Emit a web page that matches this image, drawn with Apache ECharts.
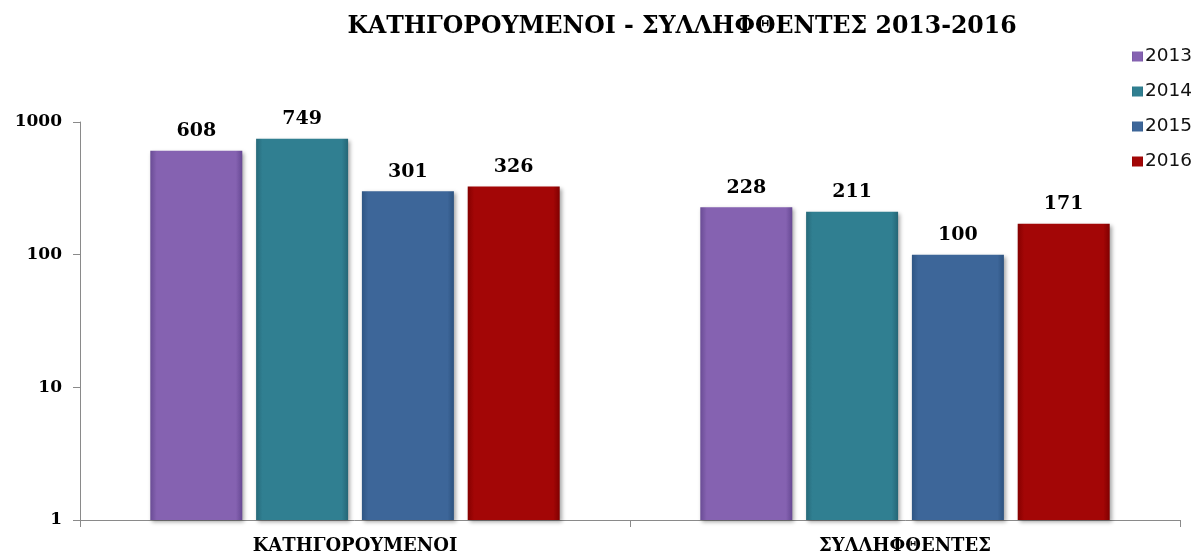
<!DOCTYPE html>
<html><head><meta charset="utf-8">
<script src="https://cdn.jsdelivr.net/npm/echarts@6/dist/echarts.min.js"></script>
<style>html,body{margin:0;padding:0;background:#fff}#c{width:1200px;height:555px}</style>
</head><body><div id="c"></div>
<script>
const categories = ['ΚΑΤΗΓΟΡΟΥΜΕΝΟΙ', 'ΣΥΛΛΗΦΘΕΝΤΕΣ'];
const years = ['2013', '2014', '2015', '2016'];
const values2013 = [608, 228];
const values2014 = [749, 211];
const values2015 = [301, 100];
const values2016 = [326, 171];
const yTicks = [1, 10, 100, 1000];

const seriesValues = [values2013, values2014, values2015, values2016];
const palette = [
  ['#6a4c95', '#8562b1', '#664893', '#b79ae0'],
  ['#276a7a', '#307f91', '#256676', '#6fb8c8'],
  ['#2f5684', '#3d6699', '#2d5380', '#7fa2cc'],
  ['#850000', '#a30606', '#800000', '#e05050']
];
const serif = 'DejaVu Serif, serif';
const chart = echarts.init(document.getElementById('c'));
chart.setOption({
  animation: false,
  title: {
    text: 'ΚΑΤΗΓΟΡΟΥΜΕΝΟΙ - ΣΥΛΛΗΦΘΕΝΤΕΣ 2013-2016',
    left: 677, top: 10, textAlign: 'center',
    textStyle: { fontFamily: serif, fontWeight: 'bold', fontSize: 23.6, color: '#000' }
  },
  legend: {
    orient: 'vertical', left: 1127, top: 42, itemWidth: 11, itemHeight: 10, itemGap: 16, icon: 'rect',
    textStyle: { fontFamily: 'DejaVu Sans, sans-serif', fontSize: 18.5, color: '#111', padding: [0,0,0,-3] },
    data: years
  },
  grid: { left: 80, right: 20, top: 122, bottom: 34, containLabel: false },
  xAxis: {
    type: 'category', data: categories,
    axisLine: { lineStyle: { color: '#8a8a8a' } },
    axisTick: { show: true, length: 7, lineStyle: { color: '#8a8a8a' } },
    axisLabel: { margin: 17, fontFamily: serif, fontWeight: 'bold', fontSize: 18, color: '#000' }
  },
  yAxis: {
    type: 'log', logBase: 10, min: 1, max: 1000,
    axisLine: { show: true, lineStyle: { color: '#8a8a8a' } },
    axisTick: { show: true, length: 7, lineStyle: { color: '#8a8a8a' } },
    splitLine: { show: false },
    axisLabel: { margin: 18, fontFamily: serif, fontWeight: 'bold', fontSize: 17, color: '#000',
      formatter: v => yTicks.includes(Math.round(v)) ? String(Math.round(v)) : '' }
  },
  series: years.map((y, i) => ({
    name: y, type: 'bar', data: seriesValues[i],
    barWidth: 92, barGap: '15%',
    itemStyle: {
      color: { type: 'linear', x: 0, y: 0, x2: 1, y2: 0, colorStops: [
        { offset: 0, color: palette[i][0] }, { offset: 0.07, color: palette[i][1] },
        { offset: 0.93, color: palette[i][1] }, { offset: 1, color: palette[i][2] } ] },
      shadowColor: 'rgba(0,0,0,0.35)', shadowBlur: 4, shadowOffsetX: 2, shadowOffsetY: 2
    },
    label: { show: true, position: 'top', distance: 10, fontFamily: serif, fontWeight: 'bold', fontSize: 19, color: '#000' }
  }))
});
</script></body></html>
